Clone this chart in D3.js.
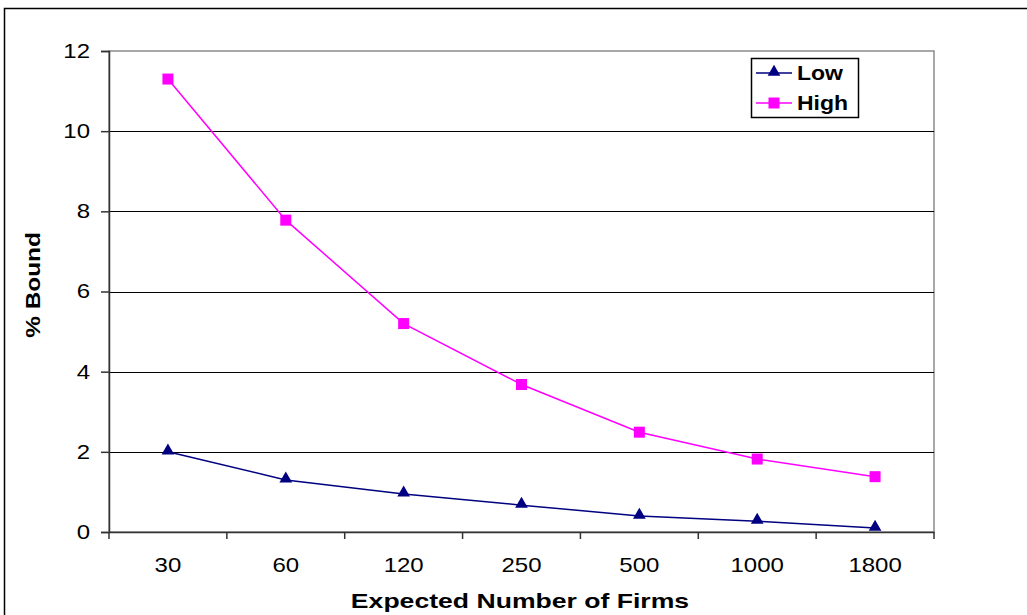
<!DOCTYPE html>
<html><head><meta charset="utf-8">
<script src="https://cdn.jsdelivr.net/npm/d3@7"></script>
<style>body{margin:0;background:#fff}svg{display:block}</style>
</head><body><svg id="c" width="1027" height="615"></svg>
<script>
const categories = ["30","60","120","250","500","1000","1800"];
const lowValues  = [2.0, 1.3, 0.95, 0.67, 0.4, 0.27, 0.1];
const highValues = [11.3, 7.78, 5.2, 3.68, 2.49, 1.82, 1.38];
const yTicks = [0,2,4,6,8,10,12];
const seriesNames = ["Low","High"];
const seriesColors = ["#000080","#FF00FF"];

const svg = d3.select("#c");
const FONT = "Liberation Sans, Arial, sans-serif";
const SX = 1.2;
const L=109,R=934,T=51,B=532;
const x = d3.scaleBand().domain(categories).range([L,R]);
const y = d3.scaleLinear().domain([0,12]).range([B,T]);

// outer border
svg.append("rect").attr("x",4.5).attr("y",8.5).attr("width",1100).attr("height",700)
  .attr("fill","none").attr("stroke","#000").attr("stroke-width",1.5);

// plot area border
svg.append("rect").attr("x",L).attr("y",T).attr("width",R-L).attr("height",B-T)
  .attr("fill","none").attr("stroke","#8c8c8c").attr("stroke-width",1.5);

// gridlines
svg.append("g").selectAll("line").data(yTicks.filter(d=>d>0&&d<12)).join("line")
  .attr("x1",L).attr("x2",R).attr("y1",d=>Math.round(y(d))+0.5).attr("y2",d=>Math.round(y(d))+0.5)
  .attr("stroke","#000").attr("stroke-width",1.2);

// y axis
const yAxis = svg.append("g").attr("transform",`translate(${L},0)`)
  .call(d3.axisLeft(y).tickValues(yTicks).tickSize(8).tickFormat(d3.format("d")));
yAxis.select(".domain").attr("stroke","#333").attr("stroke-width",1.5);
yAxis.selectAll(".tick line").attr("stroke","#333").attr("stroke-width",1.5);
yAxis.selectAll(".tick text").attr("font-family",FONT).attr("font-size",20).attr("fill","#000")
  .attr("x",0).attr("transform",`translate(-19,0) scale(${SX},1)`);

// x axis
const xAxis = svg.append("g").attr("transform",`translate(0,${B})`)
  .call(d3.axisBottom(x).tickValues([]).tickSize(0));
xAxis.select(".domain").attr("stroke","#333").attr("stroke-width",1.5);
const bounds = d3.range(categories.length+1).map(i=>L+i*x.step());
xAxis.selectAll("line.tk").data(bounds).join("line").attr("class","tk")
  .attr("x1",d=>d).attr("x2",d=>d).attr("y1",0).attr("y2",7).attr("stroke","#333").attr("stroke-width",1.5);
xAxis.selectAll("text.lab").data(categories).join("text").attr("class","lab")
  .attr("transform",d=>`translate(${x(d)+x.bandwidth()/2},40) scale(${SX},1)`)
  .attr("text-anchor","middle").attr("fill","#000").attr("font-family",FONT).attr("font-size",20).text(d=>d);

// axis titles
svg.append("text").attr("transform",`translate(520,608) scale(1.33,1)`).attr("text-anchor","middle")
  .attr("font-family",FONT).attr("font-size",20).attr("font-weight","bold").text("Expected Number of Firms");
svg.append("text").attr("transform",`translate(40,285) rotate(-90) scale(1.22,1)`).attr("text-anchor","middle")
  .attr("font-family",FONT).attr("font-size",20).attr("font-weight","bold").text("% Bound");

// series
const series = [lowValues, highValues];
const cx = d => x(d)+x.bandwidth()/2;
const line = d3.line().x((d,i)=>cx(categories[i])).y(d=>y(d));
const tri = d3.symbol().type(d3.symbolTriangle).size(70);
series.forEach((vals,si)=>{
  svg.append("path").datum(vals).attr("d",line).attr("fill","none")
    .attr("stroke",seriesColors[si]).attr("stroke-width",1.5);
  const g = svg.append("g");
  if(si===0){
    g.selectAll("path").data(vals).join("path").attr("d",tri)
      .attr("transform",(d,i)=>`translate(${cx(categories[i])},${y(d)-1})`).attr("fill",seriesColors[si]);
  } else {
    g.selectAll("rect").data(vals).join("rect")
      .attr("x",(d,i)=>cx(categories[i])-5.5).attr("y",d=>y(d)-5.5).attr("width",11).attr("height",11)
      .attr("fill",seriesColors[si]);
  }
});

// legend
const lg = svg.append("g");
lg.append("rect").attr("x",751.5).attr("y",58.5).attr("width",107).attr("height",59)
  .attr("fill","#fff").attr("stroke","#000").attr("stroke-width",1.5);
seriesNames.forEach((n,i)=>{
  const yy = 73 + i*30;
  lg.append("line").attr("x1",756).attr("x2",792).attr("y1",yy).attr("y2",yy)
    .attr("stroke",seriesColors[i]).attr("stroke-width",1.5);
  if(i===0){
    lg.append("path").attr("d",tri).attr("transform",`translate(774,${yy-1})`).attr("fill",seriesColors[i]);
  } else {
    lg.append("rect").attr("x",768.5).attr("y",yy-5.5).attr("width",11).attr("height",11).attr("fill",seriesColors[i]);
  }
  lg.append("text").attr("transform",`translate(797,${yy+7}) scale(1.15,1)`)
    .attr("font-family",FONT).attr("font-size",20).attr("font-weight","bold").text(n);
});
</script></body></html>
